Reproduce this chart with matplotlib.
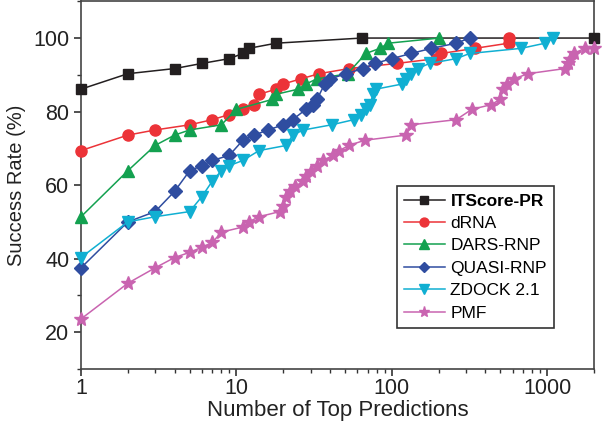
import matplotlib
matplotlib.use("Agg")
import matplotlib.pyplot as plt
from matplotlib.ticker import LogLocator, NullFormatter, MultipleLocator, FixedLocator

plt.rcParams['font.family'] = ['Liberation Sans', 'DejaVu Sans']

# ---------------- data ----------------
itscore_x = [1, 2, 4, 6, 9, 11, 12, 18, 64, 2000]
itscore_y = [86.1, 90.3, 91.7, 93.1, 94.4, 95.8, 97.2, 98.6, 100, 100]

drna_x = [1, 2, 3, 5, 7, 9, 11, 13, 14, 18, 20, 26, 34, 53, 108, 193, 208, 343, 565, 567]
drna_y = [69.4, 73.6, 75.0, 76.4, 77.8, 79.2, 80.6, 81.9, 84.7, 86.1, 87.5, 88.9, 90.3, 91.7,
          93.1, 94.4, 95.8, 97.2, 98.6, 100]

dars_x = [1, 2, 3, 4, 5, 8, 10, 17, 18, 25, 28, 33, 52, 68, 84, 95, 202]
dars_y = [51.4, 63.9, 70.8, 73.6, 75.0, 76.4, 80.6, 83.3, 84.7, 86.1, 87.5, 88.9, 90.3,
          95.8, 97.2, 98.6, 100]

quasi_x = [1, 2, 3, 4, 5, 6, 7, 9, 11, 13, 16, 20, 23, 28, 31, 33, 37, 40, 51, 65,
           78, 100, 133, 180, 260, 317]
quasi_y = [37.5, 50.0, 52.8, 58.3, 63.9, 65.3, 66.7, 68.1, 72.2, 73.6, 75.0, 76.4, 77.8,
           80.6, 81.9, 83.3, 87.5, 88.9, 90.3, 91.7, 93.1, 94.4, 95.8, 97.2, 98.6, 100]

zdock_x = [1, 2, 3, 5, 6, 7, 8, 9, 11, 14, 21, 23, 27, 41, 57, 63, 68, 72, 76, 79,
           117, 123, 133, 147, 175, 260, 317, 680, 970, 1090]
zdock_y = [40.3, 50.0, 51.4, 52.8, 56.9, 61.1, 63.9, 65.3, 66.7, 69.4, 70.8, 73.6, 75.0,
           76.4, 77.8, 79.2, 80.6, 81.9, 84.7, 86.1, 87.5, 88.9, 90.3, 91.7, 93.1, 94.4,
           95.8, 97.2, 98.6, 100]

pmf_x = [1, 2, 3, 4, 5, 6, 7, 8, 11, 12, 14, 19, 20, 21, 22, 24, 27, 28, 30, 33, 36,
         42, 46, 53, 67, 123, 133, 260, 327, 438, 495, 523, 548, 612, 751, 1300, 1370,
         1400, 1480, 1750, 2000]
pmf_y = [23.6, 33.3, 37.5, 40.3, 41.7, 43.1, 44.4, 47.2, 48.6, 50.0, 51.4, 52.8, 54.2,
         56.9, 58.3, 59.7, 61.1, 62.5, 63.9, 65.3, 66.7, 68.1, 69.4, 70.8, 72.2, 73.6,
         76.4, 77.8, 80.6, 81.9, 83.3, 86.1, 87.5, 88.9, 90.3, 91.7, 93.1, 94.4, 95.8,
         97.2, 97.2]

x_ticks = [1, 10, 100, 1000]
x_tick_labels = ["1", "10", "100", "1000"]
y_ticks = [20, 40, 60, 80, 100]

series = [
    ("ITScore-PR", itscore_x, itscore_y, "#231f20", "s", 7.0),
    ("dRNA", drna_x, drna_y, "#ec3338", "o", 8.0),
    ("DARS-RNP", dars_x, dars_y, "#13a150", "^", 8.5),
    ("QUASI-RNP", quasi_x, quasi_y, "#2f4da0", "D", 7.0),
    ("ZDOCK 2.1", zdock_x, zdock_y, "#10afd2", "v", 8.5),
    ("PMF", pmf_x, pmf_y, "#c964b0", "*", 10.0),
]

# ---------------- figure ----------------
fig = plt.figure(figsize=(6.02, 4.28), dpi=100)
ax = fig.add_axes([0.1346, 0.138, 0.852, 0.859])

for name, xs, ys, col, mk, ms in series:
    ax.plot(xs, ys, color=col, marker=mk, markersize=ms, markerfacecolor=col,
            markeredgecolor=col, linewidth=1.1, label=name, clip_on=False, zorder=3)

ax.set_xscale("log")
ax.set_xlim(1, 2000)
ax.set_ylim(10, 110)

ax.xaxis.set_major_locator(FixedLocator(x_ticks))
ax.set_xticklabels(x_tick_labels)
ax.xaxis.set_minor_locator(LogLocator(base=10, subs=range(2, 10)))
ax.xaxis.set_minor_formatter(NullFormatter())
ax.yaxis.set_major_locator(FixedLocator(y_ticks))
ax.yaxis.set_minor_locator(MultipleLocator(10))

ax.tick_params(which="major", direction="out", length=5, width=1.2, labelsize=15.5,
               colors="#333333", labelcolor="#222222", top=False, right=False)
ax.tick_params(axis="x", which="major", pad=1.5)
ax.tick_params(which="minor", direction="out", length=3, width=1.0, colors="#333333",
               top=False, right=False)
for sp in ax.spines.values():
    sp.set_linewidth(1.2)
    sp.set_color("#444444")

ax.set_xlabel("Number of Top Predictions", fontsize=16, color="#222222", labelpad=1)
ax.set_ylabel("Success Rate (%)", fontsize=14.5, color="#222222", labelpad=5)

leg = ax.legend(loc="lower right", bbox_to_anchor=(0.922, 0.112), borderaxespad=0,
                fontsize=12.5, frameon=True, fancybox=False, edgecolor="black",
                handlelength=2.4, handletextpad=0.3, labelspacing=0.42,
                borderpad=0.4, markerscale=0.8)
leg.get_frame().set_linewidth(1.2)
for t in leg.get_texts():
    if t.get_text() == "ITScore-PR":
        t.set_fontweight("bold")

fig.savefig("out.png", dpi=100)
